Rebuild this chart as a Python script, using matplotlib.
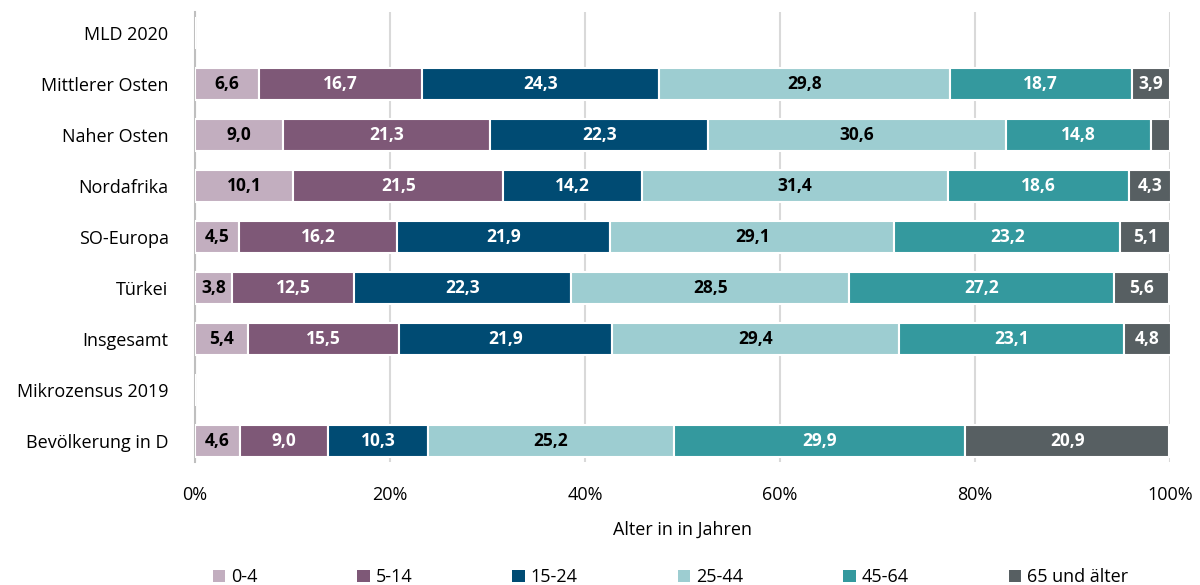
import numpy as np
import matplotlib.pyplot as plt
from matplotlib.patches import Patch

plt.rcParams['font.family'] = ['Open Sans', 'DejaVu Sans']

categories = ["MLD 2020", "Mittlerer Osten", "Naher Osten", "Nordafrika", "SO-Europa",
              "Türkei", "Insgesamt", "Mikrozensus 2019", "Bevölkerung in D"]
groups = ["0-4", "5-14", "15-24", "25-44", "45-64", "65 und älter"]

# shares per age group, rows follow categories (header rows are empty)
v_0_4   = [np.nan, 6.6, 9.0, 10.1, 4.5, 3.8, 5.4, np.nan, 4.6]
v_5_14  = [np.nan, 16.7, 21.3, 21.5, 16.2, 12.5, 15.5, np.nan, 9.0]
v_15_24 = [np.nan, 24.3, 22.3, 14.2, 21.9, 22.3, 21.9, np.nan, 10.3]
v_25_44 = [np.nan, 29.8, 30.6, 31.4, 29.1, 28.5, 29.4, np.nan, 25.2]
v_45_64 = [np.nan, 18.7, 14.8, 18.6, 23.2, 27.2, 23.1, np.nan, 29.9]
v_65    = [np.nan, 3.9, 2.0, 4.3, 5.1, 5.6, 4.8, np.nan, 20.9]

series = [v_0_4, v_5_14, v_15_24, v_25_44, v_45_64, v_65]
colors = ["#c2aebf", "#7e5877", "#004b73", "#9dcdd1", "#34999e", "#575f62"]
text_colors = ["black", "white", "white", "black", "white", "white"]

fig = plt.figure(figsize=(12, 5.85), dpi=100)
ax = fig.add_axes([0.1625, 0.21, 0.8125, 0.769])

y = np.arange(len(categories))
left = np.zeros(len(categories))
for vals, col, tc in zip(series, colors, text_colors):
    vals = np.array(vals, dtype=float)
    w = np.nan_to_num(vals)
    ax.barh(y, w, left=left, height=0.63, color=col, edgecolor="white", linewidth=1.5, zorder=3)
    for yi, (l, v) in enumerate(zip(left, vals)):
        if np.isnan(v) or v < 3:
            continue
        ax.text(l + v / 2, yi, f"{v:.1f}".replace(".", ","), ha="center", va="center",
                color=tc, fontsize=12.5, fontweight="bold", zorder=4)
    left = left + w

ax.set_xlim(0, 100)
ax.set_ylim(8.41, -0.41)
ax.set_yticks(y)
ax.set_yticklabels(categories, fontsize=13)
ax.set_xticks(np.arange(0, 101, 20))
ax.set_xticklabels([f"{t}%" for t in range(0, 101, 20)], fontsize=13)
ax.tick_params(axis="both", length=0)
ax.tick_params(axis="y", pad=19)
ax.tick_params(axis="x", pad=17)
ax.grid(axis="x", color="#d9d9d9", linewidth=1.5, zorder=0)
for s in ["top", "right", "bottom"]:
    ax.spines[s].set_visible(False)
ax.spines["left"].set_color("#bfbfbf")
ax.spines["left"].set_linewidth(1.5)
ax.set_xlabel("Alter in in Jahren", fontsize=13, labelpad=12)

handles = [Patch(facecolor=c, edgecolor="none") for c in colors]
fig.legend(handles, groups, loc="lower center", bbox_to_anchor=(0.5585, -0.03), ncol=6,
           frameon=False, fontsize=13, handlelength=0.7, handleheight=0.7,
           handletextpad=0.3, columnspacing=5.55)

fig.savefig("out.png", dpi=100)
